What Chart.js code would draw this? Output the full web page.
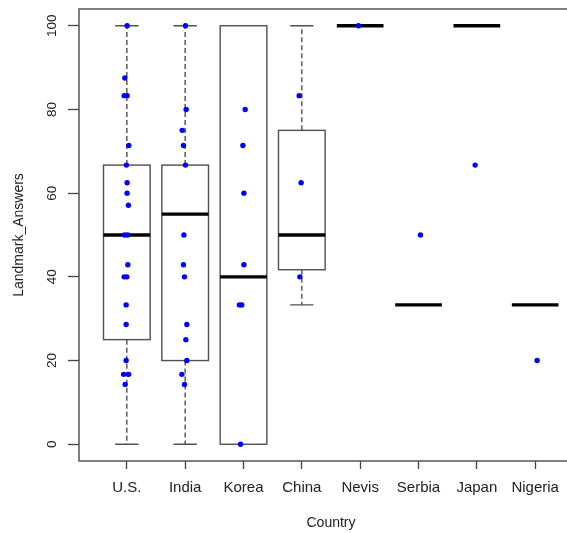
<!DOCTYPE html>
<html>
<head>
<meta charset="utf-8">
<script src="https://cdn.jsdelivr.net/npm/chart.js@4/dist/chart.umd.min.js"></script>
<style>
  html, body { margin: 0; padding: 0; overflow: hidden; background: #ffffff; }
  canvas { display: block; }
</style>
</head>
<body>
<canvas id="chart" width="600" height="533"></canvas>
<script>
// Countries along the x axis
const countries = ['U.S.', 'India', 'Korea', 'China', 'Nevis', 'Serbia', 'Japan', 'Nigeria'];

// Five-number summaries per country
const whiskerLow    = [0,    0,    0,   33.3, 100, 33.3, 100, 33.3];
const lowerQuartile = [25,   20,   0,   41.7, 100, 33.3, 100, 33.3];
const medians       = [50,   55,   40,  50,   100, 33.3, 100, 33.3];
const upperQuartile = [66.7, 66.7, 100, 75,   100, 33.3, 100, 33.3];
const whiskerHigh   = [100,  100,  100, 100,  100, 33.3, 100, 33.3];

// Individual answers (stripchart), with horizontal jitter in category units
const usAnswers = [100, 87.5, 83.3, 83.3, 71.4, 66.7, 62.5, 60, 57.1, 50, 50, 42.9, 40, 40, 33.3, 28.6, 20, 16.7, 16.7, 14.3];
const usJitter  = [0.005, -0.034, -0.046, 0.005, 0.034, -0.007, 0.005, 0.005, 0.027, -0.038, 0.014, 0.017, -0.046, 0, -0.012, -0.012, -0.012, -0.055, 0.031, -0.029];

const indiaAnswers = [100, 80, 75, 71.4, 66.7, 50, 42.9, 40, 28.6, 25, 20, 16.7, 14.3];
const indiaJitter  = [0.005, 0.017, -0.051, -0.029, 0.005, -0.022, -0.029, -0.012, 0.029, 0.012, 0.029, -0.057, -0.012];

const koreaAnswers = [80, 71.4, 60, 42.9, 33.3, 33.3, 0];
const koreaJitter  = [0.029, -0.010, 0.007, 0.007, -0.07, -0.03, -0.051];

const chinaAnswers = [83.3, 62.5, 40];
const chinaJitter  = [-0.046, -0.012, -0.034];

const nevisAnswers = [100];
const nevisJitter  = [-0.029];

const serbiaAnswers = [50];
const serbiaJitter  = [0.034];

const japanAnswers = [66.7];
const japanJitter  = [-0.029];

const nigeriaAnswers = [20];
const nigeriaJitter  = [0.034];

const yTickValues = [0, 20, 40, 60, 80, 100];

const answerGroups = [
  [usAnswers, usJitter], [indiaAnswers, indiaJitter], [koreaAnswers, koreaJitter],
  [chinaAnswers, chinaJitter], [nevisAnswers, nevisJitter], [serbiaAnswers, serbiaJitter],
  [japanAnswers, japanJitter], [nigeriaAnswers, nigeriaJitter]
];

const points = [];
answerGroups.forEach(([vals, jit], i) => {
  vals.forEach((v, k) => points.push({ x: i + 1 + jit[k], y: v }));
});

const BOX_WIDTH = 0.8;
const CAP_WIDTH = 0.4;
const FONT = "'Liberation Sans', Arial, sans-serif";
const TEXT = '#222222';

// Draws frame, boxes, whiskers and medians behind the points
const boxPlotPlugin = {
  id: 'boxPlot',
  beforeDatasetsDraw(chart) {
    const { ctx, chartArea: a, scales: { x, y } } = chart;
    ctx.save();
    ctx.lineCap = 'butt';

    // plot frame
    ctx.strokeStyle = '#555555';
    ctx.lineWidth = 1.5;
    ctx.strokeRect(a.left, a.top, a.right - a.left, a.bottom - a.top);

    countries.forEach((c, i) => {
      const cx = x.getPixelForValue(i + 1);
      const half = x.getPixelForValue(i + 1 + BOX_WIDTH / 2) - cx;
      const capHalf = x.getPixelForValue(i + 1 + CAP_WIDTH / 2) - cx;
      const yLo = y.getPixelForValue(whiskerLow[i]);
      const yQ1 = y.getPixelForValue(lowerQuartile[i]);
      const yMed = y.getPixelForValue(medians[i]);
      const yQ3 = y.getPixelForValue(upperQuartile[i]);
      const yHi = y.getPixelForValue(whiskerHigh[i]);

      ctx.strokeStyle = '#505050';
      ctx.lineWidth = 1.4;

      // dashed whiskers
      ctx.setLineDash([5, 3]);
      ctx.beginPath();
      if (whiskerHigh[i] > upperQuartile[i]) { ctx.moveTo(cx, yQ3); ctx.lineTo(cx, yHi); }
      if (whiskerLow[i] < lowerQuartile[i]) { ctx.moveTo(cx, yQ1); ctx.lineTo(cx, yLo); }
      ctx.stroke();
      ctx.setLineDash([]);

      // whisker caps
      ctx.beginPath();
      if (whiskerHigh[i] > upperQuartile[i]) { ctx.moveTo(cx - capHalf, yHi); ctx.lineTo(cx + capHalf, yHi); }
      if (whiskerLow[i] < lowerQuartile[i]) { ctx.moveTo(cx - capHalf, yLo); ctx.lineTo(cx + capHalf, yLo); }
      ctx.stroke();

      // box
      if (upperQuartile[i] > lowerQuartile[i]) {
        ctx.strokeRect(cx - half, yQ3, 2 * half, yQ1 - yQ3);
      }

      // median
      ctx.strokeStyle = '#000000';
      ctx.lineWidth = 3.3;
      ctx.beginPath();
      ctx.moveTo(cx - half, yMed);
      ctx.lineTo(cx + half, yMed);
      ctx.stroke();
    });
    ctx.restore();
  }
};

new Chart(document.getElementById('chart'), {
  type: 'scatter',
  data: {
    datasets: [{
      data: points,
      backgroundColor: '#0000ff',
      borderWidth: 0,
      pointRadius: 2.7,
      pointHoverRadius: 2.7
    }]
  },
  options: {
    responsive: false,
    animation: false,
    devicePixelRatio: 1,
    layout: { padding: { left: 0, right: 17, top: 9, bottom: 0 } },
    plugins: { legend: { display: false }, tooltip: { enabled: false } },
    scales: {
      x: {
        type: 'linear',
        min: 0.18,
        max: 8.82,
        afterBuildTicks: (s) => { s.ticks = countries.map((c, i) => ({ value: i + 1 })); },
        afterFit: (s) => { s.height = 72; s.paddingLeft = 0; s.paddingRight = 0; },
        border: { display: false },
        grid: { drawOnChartArea: false, drawTicks: true, tickLength: 8, tickColor: '#444444', tickWidth: 1.3 },
        ticks: {
          autoSkip: false,
          maxRotation: 0,
          padding: 10,
          color: TEXT,
          font: { family: FONT, size: 15 },
          callback: (v) => countries[Math.round(v) - 1]
        },
        title: {
          display: true,
          text: 'Country',
          color: TEXT,
          font: { family: FONT, size: 14 },
          padding: { top: 0, bottom: 1 }
        }
      },
      y: {
        min: -4,
        max: 104,
        afterBuildTicks: (s) => { s.ticks = yTickValues.map(v => ({ value: v })); },
        afterFit: (s) => { s.width = 79; s.paddingTop = 0; s.paddingBottom = 0; },
        border: { display: false },
        grid: { drawOnChartArea: false, drawTicks: true, tickLength: 11, tickColor: '#444444', tickWidth: 1.3 },
        ticks: {
          minRotation: 90,
          maxRotation: 90,
          crossAlign: 'center',
          padding: 4,
          color: TEXT,
          font: { family: FONT, size: 13.5 },
          callback: (v) => String(v)
        },
        title: {
          display: true,
          text: 'Landmark_Answers',
          color: TEXT,
          font: { family: FONT, size: 14 },
          padding: { top: 11, bottom: 0 }
        }
      }
    }
  },
  plugins: [boxPlotPlugin]
});
</script>
</body>
</html>
